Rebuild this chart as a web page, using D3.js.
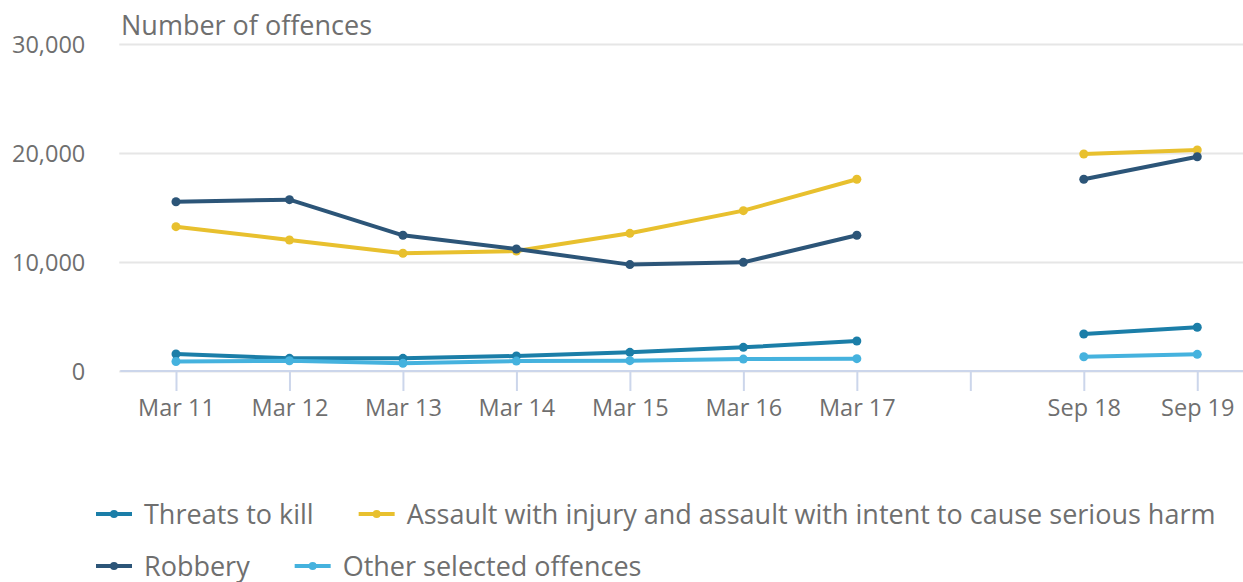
<!DOCTYPE html>
<html>
<head>
<meta charset="utf-8">
<script src="https://cdn.jsdelivr.net/npm/d3@7"></script>
<style>
  body { margin: 0; background: #fff; }
  svg, svg text { font-family: "Open Sans", sans-serif; }
  svg { display: block; }
</style>
</head>
<body>
<div id="chart"></div>
<script>
// categories on the x axis, "" is the empty slot between Mar 17 and Sep 18
var categories = ["Mar 11", "Mar 12", "Mar 13", "Mar 14", "Mar 15", "Mar 16", "Mar 17", "", "Sep 18", "Sep 19"];

var threatsToKill = [1560, 1160, 1160, 1380, 1710, 2170, 2750, null, 3390, 4010];
var assault = [13240, 12020, 10800, 11000, 12630, 14710, 17590, null, 19910, 20280];
var robbery = [15530, 15720, 12450, 11190, 9760, 9970, 12450, null, 17590, 19660];
var otherOffences = [870, 940, 700, 910, 950, 1090, 1130, null, 1310, 1530];

var yTicks = [0, 10000, 20000, 30000];

var series = [
	{ name: "Threats to kill", values: threatsToKill, color: "#1b7ea8" },
	{ name: "Assault with injury and assault with intent to cause serious harm", values: assault, color: "#e8c02e" },
	{ name: "Robbery", values: robbery, color: "#2c5578" },
	{ name: "Other selected offences", values: otherOffences, color: "#45b2de" }
];

var width = 1243;
var height = 582;
var margin = { left: 119.25, right: -11, top: 44, bottom: 211 };
var plotW = width - margin.left - margin.right;
var plotH = height - margin.top - margin.bottom;
var textColor = "#6f6f6f";
var font = "'Open Sans', sans-serif";

var svg = d3.select("#chart")
	.append("svg")
	.attr("width", width)
	.attr("height", height);

var x = d3.scalePoint().domain(categories).range([margin.left, margin.left + plotW]).padding(0.5);
var y = d3.scaleLinear().domain([0, 30000]).range([margin.top + plotH, margin.top]);

// y gridlines + labels
var yAxis = svg.append("g")
	.attr("transform", "translate(" + margin.left + ",0)")
	.call(d3.axisLeft(y).tickValues(yTicks).tickSize(-plotW).tickPadding(34).tickFormat(d3.format(",")))
	.attr("font-family", font);
yAxis.select(".domain").remove();
yAxis.selectAll(".tick line").attr("stroke", "#e6e6e6").attr("stroke-width", 2);
yAxis.selectAll(".tick text")
	.attr("fill", textColor)
	.style("font-family", font)
	.style("font-size", "23.5px")
	.attr("dy", "0.35em");

// x axis
var xAxis = svg.append("g")
	.attr("transform", "translate(0," + (margin.top + plotH) + ")")
	.call(d3.axisBottom(x).tickSize(20).tickSizeOuter(0).tickPadding(6))
	.attr("font-family", font);
xAxis.select(".domain").attr("stroke", "#ccd6eb").attr("stroke-width", 2)
	.attr("d", "M" + (margin.left + 1) + ",0H" + (margin.left + plotW));
xAxis.selectAll(".tick line").attr("stroke", "#ccd6eb").attr("stroke-width", 2);
xAxis.selectAll(".tick text")
	.attr("fill", textColor)
	.style("font-family", font)
	.style("font-size", "23.5px")
	.attr("y", 45)
	.attr("dy", null);

// axis title
svg.append("text")
	.attr("x", 121)
	.attr("y", 35)
	.attr("fill", textColor)
	.style("font-family", font)
	.style("font-size", "27px")
	.text("Number of offences");

var line = d3.line()
	.defined(function(d) { return d != null; })
	.x(function(d, i) { return x(categories[i]); })
	.y(function(d) { return y(d); });

series.forEach(function(s) {
	var g = svg.append("g");
	g.append("path")
		.datum(s.values)
		.attr("fill", "none")
		.attr("stroke", s.color)
		.attr("stroke-width", 4)
		.attr("stroke-linejoin", "round")
		.attr("stroke-linecap", "round")
		.attr("d", line);
	g.selectAll("circle")
		.data(s.values.map(function(v, i) { return { v: v, c: categories[i] }; }).filter(function(d) { return d.v != null; }))
		.enter().append("circle")
		.attr("cx", function(d) { return x(d.c); })
		.attr("cy", function(d) { return y(d.v); })
		.attr("r", 4.5)
		.attr("fill", s.color);
});

// legend, flowing items that wrap at the right edge
var legendX = 96, legendRowY = [514, 566], gap = 45;
var lx = legendX, row = 0;
series.forEach(function(s) {
	var item = svg.append("g");
	item.append("line")
		.attr("x1", 0).attr("x2", 36)
		.attr("stroke", s.color)
		.attr("stroke-width", 4);
	item.append("circle")
		.attr("cx", 18)
		.attr("r", 4)
		.attr("fill", s.color);
	var t = item.append("text")
		.attr("x", 48)
		.attr("y", 9.5)
		.attr("fill", textColor)
		.style("font-family", font)
		.style("font-size", "27px")
		.text(s.name);
	var w = 48 + t.node().getComputedTextLength();
	if (lx > legendX && lx + w > width - 10) {
		lx = legendX;
		row++;
	}
	item.attr("transform", "translate(" + lx + "," + legendRowY[row] + ")");
	lx += w + gap;
});
</script>
</body>
</html>
